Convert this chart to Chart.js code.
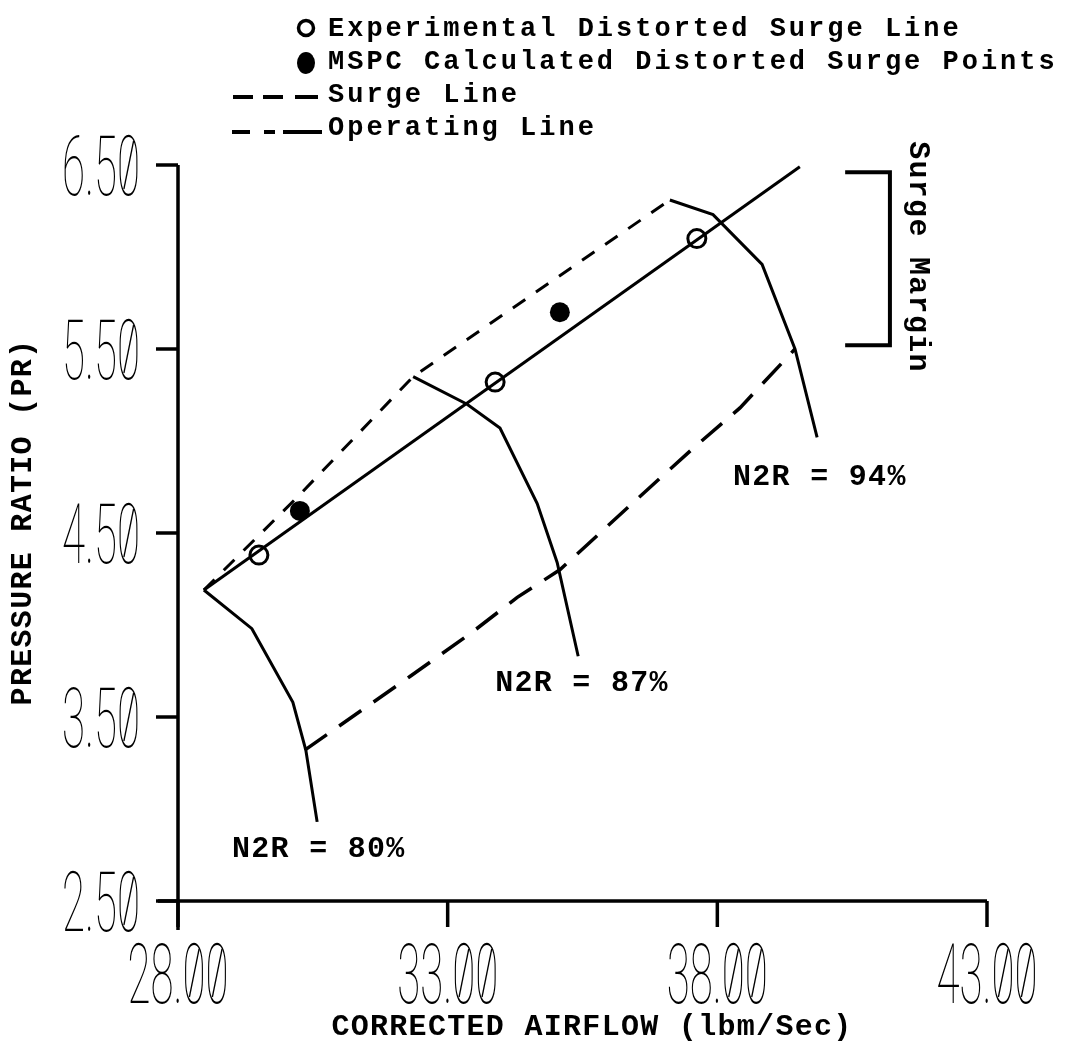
<!DOCTYPE html>
<html>
<head>
<meta charset="utf-8">
<script src="https://cdn.jsdelivr.net/npm/chart.js@4.4.1/dist/chart.umd.min.js"></script>
<style>
  body { margin: 0; background: #fff; }
  canvas { display: block; }
</style>
</head>
<body>
<canvas id="surge-chart" width="1065" height="1050"></canvas>
<script>
// tick values
const xTicks = [28, 33, 38, 43];
const yTicks = [2.5, 3.5, 4.5, 5.5, 6.5];

// experimental distorted surge line (solid) and its open circles
const expLineX = [28.48, 39.53];
const expLineY = [4.19, 6.49];
const expPtsX = [29.50, 33.88, 37.62];
const expPtsY = [4.38, 5.32, 6.10];

// MSPC calculated points (filled)
const mspcX = [30.26, 35.08, 39.31];
const mspcY = [4.62, 5.70, 6.59];

// clean surge line (short dashes)
const surgeX = [28.48, 30.23, 32.36, 37.12];
const surgeY = [4.19, 4.70, 5.35, 6.31];

// operating line (long dashes)
const opX = [30.35, 32.30, 33.45, 34.29, 35.08, 36.42, 37.55, 38.42, 39.44];
const opY = [3.32, 3.72, 3.96, 4.15, 4.30, 4.66, 4.96, 5.18, 5.50];

// speed lines
const n80X = [28.48, 29.37, 30.13, 30.37, 30.58];
const n80Y = [4.19, 3.98, 3.58, 3.32, 2.93];
const n87X = [32.36, 33.36, 33.97, 34.66, 35.03, 35.42];
const n87Y = [5.35, 5.20, 5.07, 4.66, 4.34, 3.83];
const n94X = [37.12, 37.92, 38.83, 39.44, 39.85];
const n94Y = [6.31, 6.23, 5.96, 5.50, 5.02];

// surge margin bracket
const marginX = [40.37, 41.20, 41.20, 40.37];
const marginY = [6.46, 6.46, 5.52, 5.52];

function pts(xs, ys) {
  return xs.map((x, i) => ({ x: x, y: ys[i] }));
}

function lineSet(xs, ys, dash, width) {
  return {
    data: pts(xs, ys),
    showLine: true,
    borderColor: '#000',
    borderWidth: width || 3,
    borderDash: dash || [],
    pointRadius: 0,
    tension: 0,
    clip: false
  };
}

const labelFont = 'bold 30px "Liberation Mono"';

// plotter style number: tall, condensed, slashed zeros
function plotNumber(ctx, text, x, base, align) {
  const sx = 0.5;
  ctx.font = '100 84px Roboto';
  const w = ctx.measureText(text).width * sx;
  const left = align === 'right' ? x - w : (align === 'center' ? x - w / 2 : x);
  ctx.save();
  ctx.translate(left, base);
  ctx.scale(sx, 1);
  ctx.textAlign = 'left';
  ctx.fillText(text, 0, 0);
  ctx.restore();
  ctx.save();
  ctx.lineWidth = 1.3;
  for (let i = 0; i < text.length; i++) {
    if (text[i] !== '0') continue;
    const off = ctx.measureText(text.slice(0, i)).width * sx;
    const cw = ctx.measureText('0').width * sx;
    ctx.beginPath();
    ctx.moveTo(left + off + cw * 0.3, base - 6);
    ctx.lineTo(left + off + cw * 0.72, base - 54);
    ctx.stroke();
  }
  ctx.restore();
}

const overlay = {
  id: 'overlay',
  afterDraw(chart) {
    const ctx = chart.ctx;
    const xs = chart.scales.x, ys = chart.scales.y;
    const x0 = xs.getPixelForValue(28), y0 = ys.getPixelForValue(2.5);
    const yTop = ys.getPixelForValue(6.5), xEnd = xs.getPixelForValue(43);
    ctx.save();
    ctx.strokeStyle = '#000';
    ctx.fillStyle = '#000';
    ctx.lineCap = 'butt';

    // axes
    ctx.lineWidth = 3.5;
    ctx.beginPath();
    ctx.moveTo(x0, yTop); ctx.lineTo(x0, y0 + 29);
    ctx.moveTo(x0 - 20, y0); ctx.lineTo(xEnd, y0);
    ctx.stroke();
    yTicks.forEach(v => {
      const py = ys.getPixelForValue(v);
      ctx.beginPath(); ctx.moveTo(x0 - 22, py); ctx.lineTo(x0, py); ctx.stroke();
    });
    xTicks.forEach(v => {
      const px = xs.getPixelForValue(v);
      ctx.beginPath(); ctx.moveTo(px, y0); ctx.lineTo(px, y0 + 26); ctx.stroke();
    });

    // tick labels
    yTicks.forEach(v => plotNumber(ctx, v.toFixed(2), 140, ys.getPixelForValue(v) + 30, 'right'));
    xTicks.forEach(v => plotNumber(ctx, v.toFixed(2), xs.getPixelForValue(v), y0 + 102, 'center'));

    // axis titles
    ctx.font = labelFont;
    ctx.letterSpacing = '1.3px';
    ctx.textBaseline = 'middle';
    ctx.textAlign = 'center';
    ctx.fillText('CORRECTED AIRFLOW (lbm/Sec)', 592, 1027);
    ctx.save();
    ctx.translate(23, 522);
    ctx.rotate(-Math.PI / 2);
    ctx.fillText('PRESSURE RATIO (PR)', 0, 0);
    ctx.restore();

    // speed labels
    ctx.textAlign = 'left';
    ctx.fillText('N2R = 80%', xs.getPixelForValue(29.0), ys.getPixelForValue(2.78));
    ctx.fillText('N2R = 87%', xs.getPixelForValue(33.88), ys.getPixelForValue(3.68));
    ctx.fillText('N2R = 94%', xs.getPixelForValue(38.29), ys.getPixelForValue(4.80));

    // surge margin text
    ctx.save();
    ctx.translate(xs.getPixelForValue(41.72), ys.getPixelForValue(6.0));
    ctx.rotate(Math.PI / 2);
    ctx.textAlign = 'center';
    ctx.fillText('Surge Margin', 0, 0);
    ctx.restore();

    // legend
    ctx.font = 'bold 27px "Liberation Mono"';
    ctx.letterSpacing = '3px';
    ctx.textAlign = 'left';
    ctx.lineWidth = 3.5;
    ctx.beginPath(); ctx.arc(306, 28, 7.5, 0, Math.PI * 2); ctx.stroke();
    ctx.fillText('Experimental Distorted Surge Line', 328, 29);
    ctx.beginPath(); ctx.ellipse(306, 63, 9, 11, 0, 0, Math.PI * 2); ctx.fill();
    ctx.fillText('MSPC Calculated Distorted Surge Points', 328, 62);
    ctx.lineWidth = 4;
    [[233, 253], [263, 283], [295, 318]].forEach(s => {
      ctx.beginPath(); ctx.moveTo(s[0], 97); ctx.lineTo(s[1], 97); ctx.stroke();
    });
    ctx.fillText('Surge Line', 328, 95);
    [[232, 250], [264, 275], [283, 322]].forEach(s => {
      ctx.beginPath(); ctx.moveTo(s[0], 132); ctx.lineTo(s[1], 132); ctx.stroke();
    });
    ctx.fillText('Operating Line', 328, 128);
    ctx.restore();
  }
};

new Chart(document.getElementById('surge-chart'), {
  type: 'scatter',
  data: {
    datasets: [
      {
        data: pts(expPtsX, expPtsY),
        pointStyle: 'circle',
        pointRadius: 9,
        pointBorderWidth: 3,
        pointBorderColor: '#000',
        pointBackgroundColor: 'rgba(0,0,0,0)',
        showLine: false,
        clip: false
      },
      {
        data: pts(mspcX, mspcY),
        pointStyle: 'circle',
        pointRadius: 10,
        pointBorderWidth: 0,
        pointBackgroundColor: '#000',
        showLine: false,
        clip: false
      },
      lineSet(expLineX, expLineY, [], 3),
      lineSet(surgeX, surgeY, [15, 13], 3),
      lineSet(opX, opY, [27, 15], 3.5),
      lineSet(n80X, n80Y, [], 3),
      lineSet(n87X, n87Y, [], 3),
      lineSet(n94X, n94Y, [], 3),
      lineSet(marginX, marginY, [], 4)
    ]
  },
  options: {
    responsive: false,
    animation: false,
    devicePixelRatio: 1,
    layout: { padding: { left: 178, right: 78, top: 165, bottom: 149 } },
    plugins: { legend: { display: false }, tooltip: { enabled: false } },
    scales: {
      x: { type: 'linear', min: 28, max: 43, display: false },
      y: { type: 'linear', min: 2.5, max: 6.5, display: false }
    }
  },
  plugins: [overlay]
});
</script>
</body>
</html>
